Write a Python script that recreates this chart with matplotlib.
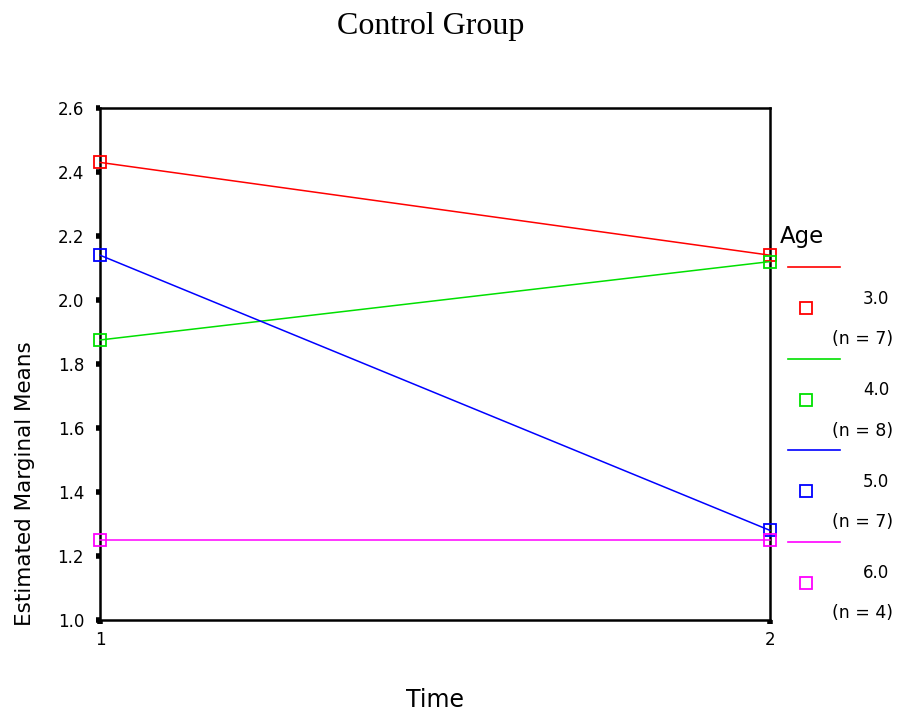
import matplotlib
matplotlib.use("Agg")
import matplotlib.pyplot as plt
from matplotlib.lines import Line2D

# data
times = [1, 2]
ages = ["3.0", "4.0", "5.0", "6.0"]
counts = [7, 8, 7, 4]
means = [
    [2.43, 2.14],
    [1.875, 2.12],
    [2.14, 1.28],
    [1.25, 1.25],
]
colors = ["#ff0000", "#00e000", "#0000ff", "#ff00ff"]
y_ticks = [1.0, 1.2, 1.4, 1.6, 1.8, 2.0, 2.2, 2.4, 2.6]

SANS = "DejaVu Sans"
W, H = 901, 715
fig = plt.figure(figsize=(W / 100, H / 100), dpi=100, facecolor="white")
ax = fig.add_axes([100 / W, 1 - 620 / H, 670 / W, 512 / H])

for vals, col in zip(means, colors):
    ax.plot(times, vals, color=col, lw=1.1, marker="s", ms=8.5,
            mfc="none", mec=col, mew=1.3, clip_on=False, zorder=3)

ax.set_xlim(1, 2)
ax.set_ylim(1.0, 2.6)
ax.set_xticks(times)
ax.set_xticklabels([str(t) for t in times])
ax.set_yticks(y_ticks)
ax.set_yticklabels([f"{v:.1f}" for v in y_ticks])
for s in ax.spines.values():
    s.set_linewidth(1.8)
ax.tick_params(axis="both", direction="out", length=3, width=4, color="black",
               labelsize=12)
ax.tick_params(axis="y", pad=8.5)
ax.tick_params(axis="x", pad=5)
for lab in ax.get_xticklabels() + ax.get_yticklabels():
    lab.set_family(SANS)

ax.set_xlabel("Time", family=SANS, fontsize=17)
ax.xaxis.set_label_coords(0.5, -0.133)
ax.set_ylabel("Estimated Marginal Means", family=SANS, fontsize=15.5,
              loc="bottom")
ax.yaxis.set_label_coords(-0.097, -0.012)

fig.text(431 / W, 1 - 34 / H, "Control Group", family="Liberation Serif",
         fontsize=23, ha="center", va="baseline")

# legend on the right
fig.text(780 / W, 1 - 237 / H, "Age", family=SANS, fontsize=16.5,
         ha="left", va="center")
step = 91.5
for i, (age, n, col) in enumerate(zip(ages, counts, colors)):
    y0 = 267 + i * step
    fig.add_artist(Line2D([788 / W, 840 / W], [1 - y0 / H, 1 - y0 / H],
                          color=col, lw=1.2, transform=fig.transFigure))
    fig.add_artist(Line2D([806 / W], [1 - (y0 + 41) / H], marker="s", ms=8.5,
                          mfc="none", mec=col, mew=1.3, ls="none",
                          transform=fig.transFigure))
    fig.text(889 / W, 1 - (y0 + 32) / H, age, family=SANS,
             fontsize=12, ha="right", va="center")
    fig.text(893 / W, 1 - (y0 + 72) / H, f"(n = {n})",
             family=SANS, fontsize=12.5, ha="right", va="center")

fig.savefig("out.png", dpi=100, facecolor="white")
